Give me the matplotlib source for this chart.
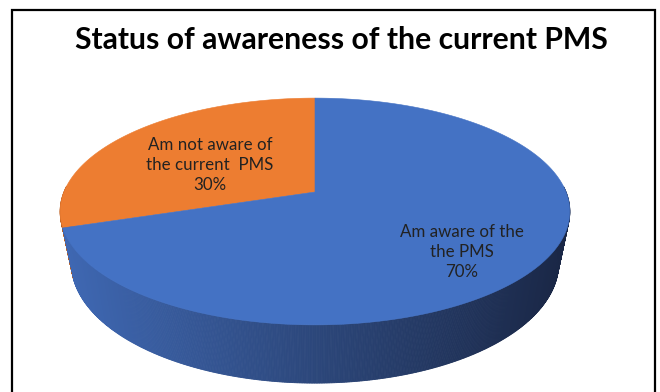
import numpy as np
import matplotlib
matplotlib.use("Agg")
import matplotlib.pyplot as plt
from matplotlib.patches import Polygon
from matplotlib.colors import LinearSegmentedColormap

# Data
title = "Status of awareness of the current PMS"
labels = ["Am not aware of\nthe current  PMS", "Am aware of the\nthe PMS"]
values = [30, 70]
colors = ["#ed7d31", "#4472c4"]
side_dark = ["#b85e22", None]

# Figure in pixel coordinates
W, H = 660, 392
fig = plt.figure(figsize=(W / 100, H / 100), dpi=100)
ax = fig.add_axes([0, 0, 1, 1])
ax.set_xlim(0, W)
ax.set_ylim(H, 0)
ax.axis("off")

# Camera for the tilted 3-D pie
alpha = np.radians(26.0)
D = 5.23
f = 1313.0
h = 0.23
base_r = 0.975
cx, cy = 315.0, 192.0


def project(X, Y, Z):
    zc = D + Z * np.cos(alpha) - Y * np.sin(alpha)
    yc = Z * np.sin(alpha) + Y * np.cos(alpha)
    return cx + f * X / zc, cy - f * yc / zc


def rim(theta, Y, r=1.0):
    return project(r * np.cos(theta), Y, np.sin(theta))


# Slice angles: start at 12 o'clock, going counter-clockwise for the first slice
total = sum(values)
start = 90.0
bounds = []
for v in values:
    end = start + 360.0 * v / total
    bounds.append((start, end))
    start = end

side_cmap = LinearSegmentedColormap.from_list(
    "side", ["#3f68b3", "#2c477b", "#1a2746"])
xl, xr = cx - 255, cx + 255

# Side wall (front half only), drawn as thin strips
for i, (a0, a1) in enumerate(bounds):
    lo, hi = np.radians(a0), np.radians(a1)
    th = np.linspace(lo, hi, int(abs(a1 - a0) * 3) + 2)
    for t0, t1 in zip(th[:-1], th[1:]):
        if np.sin((t0 + t1) / 2) > 0.05:
            continue
        x0, y0 = rim(t0, 0)
        x1, y1 = rim(t1, 0)
        x2, y2 = rim(t1, -h, base_r)
        x3, y3 = rim(t0, -h, base_r)
        xm = (x0 + x1) / 2
        if i == 0:
            c = side_dark[0]
        else:
            c = side_cmap(np.clip((xm - xl) / (xr - xl), 0, 1))
        ax.add_patch(Polygon([(x0, y0), (x1, y1), (x2, y2), (x3, y3)],
                             closed=True, facecolor=c, edgecolor=c,
                             linewidth=0.6, zorder=2))

# Top face slices
for (a0, a1), c in zip(bounds, colors):
    th = np.radians(np.linspace(a0, a1, 300))
    xs, ys = rim(th, 0)
    px, py = project(0, 0, 0)
    pts = [(px, py)] + list(zip(xs, ys))
    ax.add_patch(Polygon(pts, closed=True, facecolor=c, edgecolor=c,
                         linewidth=0.4, zorder=3))

# Data labels
label_pos = [(210, 165), (462, 252)]
for lab, v, (lx, ly) in zip(labels, values, label_pos):
    ax.text(lx, ly, f"{lab}\n{v}%", ha="center", va="center",
            fontsize=12.2, family="Lato", color="#222222",
            linespacing=1.32, zorder=5)

# Title
ax.text(341, 40, title, ha="center", va="center", fontsize=21.7,
        fontweight="bold", family="Lato", color="#000000", zorder=5)

# Chart frame (open at the bottom)
ax.plot([12, 12, 655, 655], [H, 10, 10, H], color="black",
        linewidth=1.6, solid_capstyle="butt", solid_joinstyle="miter",
        zorder=6)

fig.savefig("out.png", dpi=100)
